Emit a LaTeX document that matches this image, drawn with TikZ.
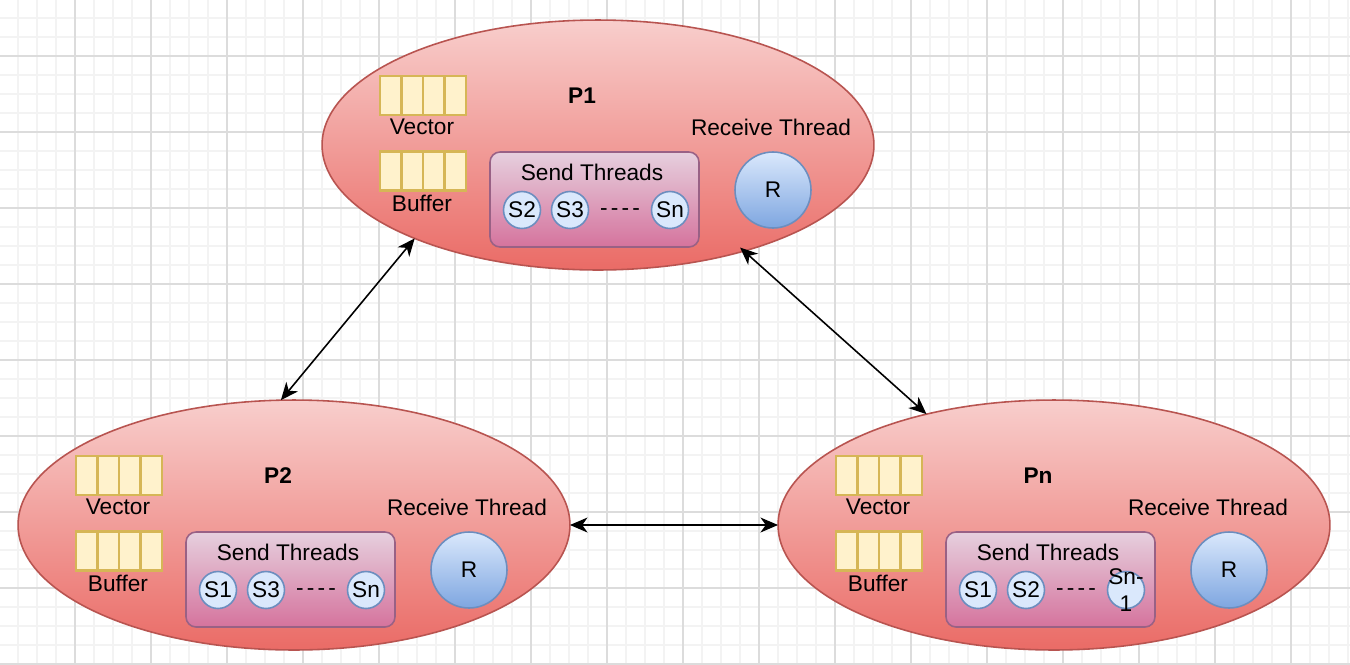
\documentclass[tikz,border=0pt]{standalone}
\usepackage{fontspec}
\setmainfont{Liberation Sans}
\usepackage{tikz}
\usetikzlibrary{positioning,shapes.geometric,arrows.meta}

\definecolor{gridlight}{HTML}{F3F3F3}
\definecolor{griddark}{HTML}{DCDCDC}
\definecolor{proctop}{HTML}{F8CECC}
\definecolor{procbot}{HTML}{EA6B66}
\definecolor{procline}{HTML}{B85450}
\definecolor{sendtop}{HTML}{E6D0DE}
\definecolor{sendbot}{HTML}{D5739D}
\definecolor{sendline}{HTML}{996185}
\definecolor{thrtop}{HTML}{DAE8FC}
\definecolor{thrbot}{HTML}{7EA6E0}
\definecolor{thrline}{HTML}{6C8EBF}
\definecolor{cellfill}{HTML}{FFF2CC}
\definecolor{cellline}{HTML}{D6B656}

\newcommand\diafont{\fontsize{12.9}{15.3}\selectfont}

\tikzset{
  proc/.style={ellipse, minimum width=11.04cm, minimum height=5cm, inner sep=0pt,
    outer sep=0pt, top color=proctop, bottom color=procbot, draw=procline, line width=0.9pt},
  sendbox/.style={rectangle, rounded corners=0.2cm, minimum width=4.18cm, minimum height=1.9cm,
    top color=sendtop, bottom color=sendbot, draw=sendline, line width=0.9pt},
  rthread/.style={circle, minimum size=1.52cm, inner sep=0pt, top color=thrtop,
    bottom color=thrbot, draw=thrline, line width=0.9pt},
  sthread/.style={circle, minimum size=0.74cm, inner sep=0pt, fill=thrtop,
    draw=thrline, line width=0.9pt},
  cell/.style={rectangle, minimum width=0.43cm, minimum height=0.78cm, inner sep=0pt,
    fill=cellfill, draw=cellline, line width=1.2pt},
  pname/.style={font=\diafont\bfseries},
  link/.style={{Stealth[length=10pt,width=8.5pt,inset=3pt]}-{Stealth[length=10pt,width=8.5pt,inset=3pt]},
    line width=0.9pt},
  gridminor/.style={gridlight, line width=0.6pt},
  gridmajor/.style={griddark, line width=0.6pt}
}

\begin{document}
\begin{tikzpicture}[x=0.02cm, y=-0.02cm, font=\diafont]
  \useasboundingbox (0,0) rectangle (1350,664);
  \fill[white] (0,0) rectangle (1350,664);

  % background grid
  \foreach \x in {18,37,...,1350} \draw[gridminor] (\x,0) -- (\x,664);
  \foreach \y in {18,37,...,664} \draw[gridminor] (0,\y) -- (1350,\y);
  \foreach \x in {75,151,...,1350} \draw[gridmajor] (\x,0) -- (\x,664);
  \foreach \y in {56,132,...,664} \draw[gridmajor] (0,\y) -- (1350,\y);

  \foreach \p/\cx/\cy/\rx/\sa/\sb/\sc in {P1/598/145/173/S2/S3/Sn, P2/294/525/173/S1/S3/Sn,
      Pn/1054/525/154/S1/S2/{Sn-\\1}} {
    \begin{scope}[shift={(\cx,\cy)}]
      \node[proc] (\p) at (0,0) {};
      \node[pname] (\p-name) at (-16,-49) {\p};

      \foreach \i in {0,...,3} {
        \node[cell] (\p-v\i) at (-207.25+21.5*\i,-49.5) {};
        \node[cell] (\p-b\i) at (-207.25+21.5*\i,26) {};
      }
      \node (\p-vec) at (-176,-18) {Vector};
      \node (\p-buf) at (-176,58) {Buffer};

      \node[sendbox] (\p-send) at (-3.5,54.5) {};
      \node (\p-sendlbl) at (-6,27) {Send Threads};
      \node[sthread] (\p-s1) at (-76,65) {\sa};
      \node[sthread] (\p-s2) at (-28,65) {\sb};
      \node[sthread, label={[align=center]center:\sc}] (\p-s3) at (72,65) {};
      \node (\p-dots) at (22,67) {-\kern1.8pt-\kern1.8pt-\kern1.8pt-};

      \node (\p-recv) at (\rx,-18) {Receive Thread};
      \node[rthread] (\p-r) at (175,45) {R};
    \end{scope}
  }

  \draw[link] (P1.207.7) -- (P2.96.6);
  \draw[link, shorten <=-3pt] (P1.324.2) -- (Pn.139.7);
  \draw[link] (P2.east) -- (Pn.west);
\end{tikzpicture}
\end{document}
